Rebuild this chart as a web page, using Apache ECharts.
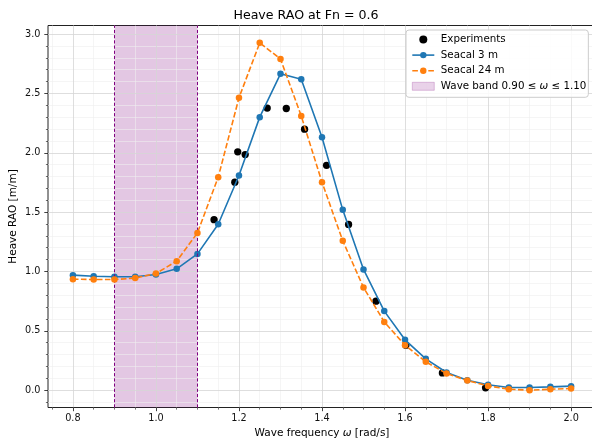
<!DOCTYPE html>
<html>
<head>
<meta charset="utf-8">
<script src="https://cdn.jsdelivr.net/npm/echarts@6/dist/echarts.min.js"></script>
<style>
  html, body { margin: 0; padding: 0; background: #fff; }
  #chart { width: 592px; height: 443px; }
</style>
</head>
<body>
<div id="chart"></div>
<script>
// ---- data ----
const omega = [0.80, 0.85, 0.90, 0.95, 1.00, 1.05, 1.10, 1.15, 1.20, 1.25, 1.30, 1.35, 1.40,
               1.45, 1.50, 1.55, 1.60, 1.65, 1.70, 1.75, 1.80, 1.85, 1.90, 1.95, 2.00];
const seacal3 = [0.969, 0.960, 0.955, 0.955, 0.975, 1.022, 1.148, 1.398, 1.808, 2.300, 2.665, 2.620, 2.131,
                 1.519, 1.017, 0.666, 0.424, 0.264, 0.149, 0.084, 0.045, 0.023, 0.023, 0.028, 0.034];
const seacal24 = [0.935, 0.932, 0.932, 0.944, 0.983, 1.087, 1.325, 1.794, 2.463, 2.926, 2.790, 2.310, 1.752,
                  1.258, 0.865, 0.575, 0.379, 0.239, 0.140, 0.081, 0.036, 0.008, 0.000, 0.008, 0.014];
const expOmega = [1.140, 1.190, 1.197, 1.215, 1.268, 1.314, 1.358, 1.411, 1.464, 1.530, 1.602, 1.690, 1.794];
const expHeave = [1.436, 1.752, 2.008, 1.985, 2.376, 2.373, 2.199, 1.894, 1.396, 0.750, 0.379, 0.145, 0.020];
const bandLow = 0.90;
const bandHigh = 1.10;

const xMajorTicks = [0.8, 1.0, 1.2, 1.4, 1.6, 1.8, 2.0];
const xMinorTicks = [0.75, 0.85, 0.9, 0.95, 1.05, 1.1, 1.15, 1.25, 1.3, 1.35, 1.45, 1.5, 1.55,
                     1.65, 1.7, 1.75, 1.85, 1.9, 1.95, 2.05];
const yMajorTicks = [0.0, 0.5, 1.0, 1.5, 2.0, 2.5, 3.0];
const yMinorTicks = [-0.1, 0.1, 0.2, 0.3, 0.4, 0.6, 0.7, 0.8, 0.9, 1.1, 1.2, 1.3, 1.4, 1.6, 1.7, 1.8, 1.9,
                     2.1, 2.2, 2.3, 2.4, 2.6, 2.7, 2.8, 2.9];

const titleText = 'Heave RAO at Fn = 0.6';
const nameExp = 'Experiments';
const name3 = 'Seacal 3 m';
const name24 = 'Seacal 24 m';
const nameBand = 'Wave band 0.90 ≤ ω ≤ 1.10';

// ---- chart ----
const FONT = 'DejaVu Sans';
const INK = '#111';
const chart = echarts.init(document.getElementById('chart'), null, { renderer: 'canvas' });

const zip = (xs, ys) => xs.map((x, i) => [x, ys[i]]);

const majorAxisCommon = (ticks, labelMargin) => ({
  axisLine: { show: false, onZero: false },
  axisTick: { show: true, customValues: ticks, length: 3.7, lineStyle: { color: INK, width: 0.8 } },
  axisLabel: { show: true, customValues: ticks, margin: labelMargin, color: INK, fontFamily: FONT, fontSize: 9.7,
               formatter: v => Number(v).toFixed(1) },
  splitLine: { show: true, lineStyle: { color: '#d6d6d6', width: 0.8 } },
  minorTick: { show: false }, minorSplitLine: { show: false }
});
const minorAxisCommon = (ticks) => ({
  axisLine: { show: false, onZero: false },
  axisTick: { show: true, customValues: ticks, length: 2.1, lineStyle: { color: INK, width: 0.6 } },
  axisLabel: { show: false },
  splitLine: { show: true, lineStyle: { color: '#efefef', width: 0.6 } },
  minorTick: { show: false }, minorSplitLine: { show: false }
});

const option = {
  animation: false,
  backgroundColor: '#fff',
  textStyle: { fontFamily: FONT },
  title: {
    text: titleText, left: 301, top: 4, textAlign: 'center',
    textStyle: { fontFamily: FONT, fontSize: 12.6, fontWeight: 'normal', color: '#000' }
  },
  grid: {
    left: 48, top: 25.5, width: 548, height: 382,
    show: true, borderColor: '#222', borderWidth: 1, backgroundColor: 'transparent',
    containLabel: false, outerBoundsMode: 'none'
  },
  xAxis: [
    Object.assign({
      type: 'value', min: 0.74, max: 2.06, position: 'bottom', z: 3,
      name: '{n|Wave frequency }{i|ω}{n| [rad/s]}', nameLocation: 'middle', nameGap: 20,
      nameMoveOverlap: false,
      nameTextStyle: { color: '#000', rich: {
        n: { fontFamily: FONT, fontSize: 10.5, color: '#000' },
        i: { fontFamily: FONT, fontSize: 10.5, fontStyle: 'italic', color: '#000' } } }
    }, majorAxisCommon(xMajorTicks, 6)),
    Object.assign({ type: 'value', min: 0.74, max: 2.06, position: 'bottom', offset: 0, z: 2 },
      minorAxisCommon(xMinorTicks))
  ],
  yAxis: [
    Object.assign({
      type: 'value', min: -0.146, max: 3.072, position: 'left', z: 3,
      name: 'Heave RAO [m/m]', nameLocation: 'middle', nameGap: 29.5, nameRotate: 90,
      nameMoveOverlap: false,
      nameTextStyle: { fontFamily: FONT, fontSize: 10.5, color: '#000' }
    }, majorAxisCommon(yMajorTicks, 7.5)),
    Object.assign({ type: 'value', min: -0.146, max: 3.072, position: 'left', offset: 0, z: 2 },
      minorAxisCommon(yMinorTicks))
  ],
  legend: {
    orient: 'vertical', left: 406, top: 30,
    padding: [3.5, 2, 5, 5.5],
    itemWidth: 22, itemHeight: 8, itemGap: 3.6,
    backgroundColor: 'rgba(255,255,255,0.85)', borderColor: '#cccccc', borderWidth: 1, borderRadius: 3,
    lineStyle: { width: 1.6 },
    formatter: name => name === nameBand
      ? '{t|Wave band 0.90 ≤ }{i|ω}{t| ≤ 1.10}'
      : '{t|' + name + '}',
    textStyle: {
      color: '#000', fontFamily: FONT, fontSize: 10.3, lineHeight: 12, padding: [0, 0, 0, 1.5],
      rich: {
        t: { fontFamily: FONT, fontSize: 10.3, color: '#000', lineHeight: 12 },
        i: { fontFamily: FONT, fontSize: 10.3, color: '#000', fontStyle: 'italic', lineHeight: 12 }
      }
    },
    data: [
      { name: nameExp, icon: 'circle' },
      { name: name3 },
      { name: name24 },
      { name: nameBand, icon: 'rect', itemStyle: { color: 'rgba(128,0,128,0.22)', borderColor: 'rgba(128,0,128,0.35)', borderWidth: 0.8 } }
    ]
  },
  series: [
    {
      name: nameBand, type: 'scatter', xAxisIndex: 0, yAxisIndex: 0, data: [], z: 1,
      itemStyle: { color: 'rgba(128,0,128,0.22)' },
      markArea: {
        silent: true,
        itemStyle: { color: 'rgba(128,0,128,0.22)', borderWidth: 0 },
        label: { show: false },
        data: [[{ xAxis: bandLow }, { xAxis: bandHigh }]]
      },
      markLine: {
        silent: true, symbol: ['none', 'none'],
        label: { show: false },
        lineStyle: { color: '#800080', width: 1, type: [3.2, 2] },
        data: [{ xAxis: bandLow }, { xAxis: bandHigh }]
      }
    },
    {
      name: nameExp, type: 'scatter', xAxisIndex: 0, yAxisIndex: 0, z: 3,
      symbol: 'circle', symbolSize: 7.3,
      itemStyle: { color: '#000', opacity: 1 },
      data: zip(expOmega, expHeave)
    },
    {
      name: name3, type: 'line', xAxisIndex: 0, yAxisIndex: 0, z: 4,
      symbol: 'circle', symbolSize: 6.5, showSymbol: true,
      itemStyle: { color: '#1f77b4', borderWidth: 0 },
      lineStyle: { color: '#1f77b4', width: 1.6 },
      data: zip(omega, seacal3)
    },
    {
      name: name24, type: 'line', xAxisIndex: 0, yAxisIndex: 0, z: 5,
      symbol: 'circle', symbolSize: 6.5, showSymbol: true,
      itemStyle: { color: '#ff7f0e', borderWidth: 0 },
      lineStyle: { color: '#ff7f0e', width: 1.6, type: [5.6, 2.4] },
      data: zip(omega, seacal24)
    }
  ]
};
chart.setOption(option);
</script>
</body>
</html>
